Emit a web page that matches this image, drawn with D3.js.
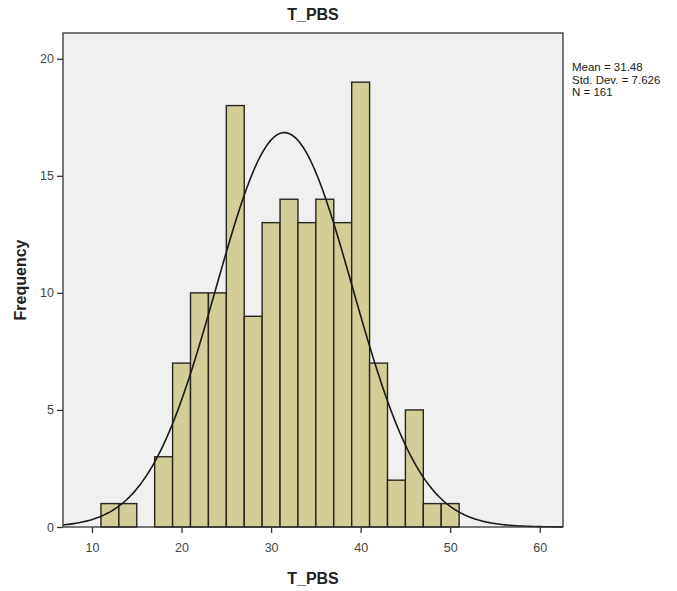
<!DOCTYPE html>
<html>
<head>
<meta charset="utf-8">
<script src="https://cdn.jsdelivr.net/npm/d3@7"></script>
<style>
  body { margin: 0; background: #fff; }
  text { font-family: "Liberation Sans", Arial, sans-serif; }
</style>
</head>
<body>
<div id="chart-area"></div>
<script>
// histogram bins (lower edge, width 2) and counts
let binStarts = [11, 13, 15, 17, 19, 21, 23, 25, 27, 29, 31, 33, 35, 37, 39, 41, 43, 45, 47, 49];
let counts = [1, 1, 0, 3, 7, 10, 10, 18, 9, 13, 14, 13, 14, 13, 19, 7, 2, 5, 1, 1];
let binWidth = 2;
let xTicks = [10, 20, 30, 40, 50, 60];
let yTicks = [0, 5, 10, 15, 20];
let mean = 31.48, sd = 7.626, n = 161;
let statsLines = ["Mean = 31.48", "Std. Dev. = 7.626", "N = 161"];

let margin = {left: 63, right: 114, top: 33, bottom: 64};
let width = 677 - margin.left - margin.right;
let height = 591 - margin.top - margin.bottom;

let svg = d3.select("#chart-area")
    .append("svg")
    .attr("width", 677)
    .attr("height", 591);

let g = svg.append("g")
    .attr("transform", "translate(" + margin.left + "," + margin.top + ")");

let x = d3.scaleLinear().domain([6.76, 62.6]).range([0, width]);
let y = d3.scaleLinear().domain([0, 21.1]).range([height, 0]);

// plot background
g.append("rect")
    .attr("width", width)
    .attr("height", height)
    .attr("fill", "#f0f0f0");

// bars
g.selectAll("rect.bar")
    .data(binStarts)
    .enter()
    .filter(function(d, i){ return counts[i] > 0; })
    .append("rect")
    .attr("class", "bar")
    .attr("x", function(d){ return x(d); })
    .attr("width", function(d){ return x(d + binWidth) - x(d); })
    .attr("y", function(d){ return y(counts[binStarts.indexOf(d)]); })
    .attr("height", function(d){ return height - y(counts[binStarts.indexOf(d)]); })
    .attr("fill", "#d3cd98")
    .attr("stroke", "#26261e")
    .attr("stroke-width", 1.4);

// normal curve from the listed mean / sd / N
let peak = n * binWidth / (sd * Math.sqrt(2 * Math.PI));
let curvePts = d3.range(x.domain()[0], x.domain()[1] + 0.01, 0.2).map(function(v){
    return [v, peak * Math.exp(-0.5 * Math.pow((v - mean) / sd, 2))];
});
g.append("path")
    .datum(curvePts)
    .attr("fill", "none")
    .attr("stroke", "#1a1a1a")
    .attr("stroke-width", 1.6)
    .attr("d", d3.line()
        .x(function(d){ return x(d[0]); })
        .y(function(d){ return y(d[1]); }));

// frame
g.append("rect")
    .attr("width", width)
    .attr("height", height)
    .attr("fill", "none")
    .attr("stroke", "#333")
    .attr("stroke-width", 1.3);

// axes
let xAxis = d3.axisBottom(x).tickValues(xTicks).tickSize(6).tickSizeOuter(0);
let xg = g.append("g")
    .attr("transform", "translate(0," + height + ")")
    .call(xAxis);
let yAxis = d3.axisLeft(y).tickValues(yTicks).tickSize(6).tickSizeOuter(0);
let yg = g.append("g").call(yAxis);

[xg, yg].forEach(function(ax){
    ax.select(".domain").remove();
    ax.selectAll(".tick line").attr("stroke", "#333").attr("stroke-width", 1.3);
    ax.selectAll(".tick text")
        .attr("fill", "#444")
        .style("font-size", "12.5px");
});
xg.selectAll(".tick text").attr("dy", "1.25em");

// title and labels
svg.append("text")
    .attr("x", margin.left + width / 2)
    .attr("y", 20)
    .attr("text-anchor", "middle")
    .style("font-size", "16px")
    .style("font-weight", "bold")
    .attr("fill", "#222")
    .text("T_PBS");

svg.append("text")
    .attr("x", margin.left + width / 2)
    .attr("y", 584)
    .attr("text-anchor", "middle")
    .style("font-size", "16px")
    .style("font-weight", "bold")
    .attr("fill", "#222")
    .text("T_PBS");

svg.append("text")
    .attr("transform", "rotate(-90)")
    .attr("x", -(margin.top + height / 2))
    .attr("y", 26)
    .attr("text-anchor", "middle")
    .style("font-size", "16px")
    .style("font-weight", "bold")
    .attr("fill", "#222")
    .text("Frequency");

// stats box text
svg.selectAll("text.stat")
    .data(statsLines)
    .enter()
    .append("text")
    .attr("class", "stat")
    .attr("x", 572)
    .attr("y", function(d, i){ return 71 + i * 12.5; })
    .style("font-size", "11.5px")
    .attr("fill", "#222")
    .text(function(d){ return d; });
</script>
</body>
</html>
